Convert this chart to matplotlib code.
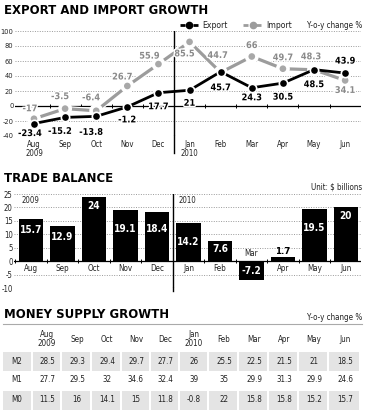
import matplotlib
matplotlib.use("Agg")
import matplotlib.pyplot as plt
import matplotlib.patheffects as pe
from matplotlib.patches import Rectangle

plt.rcParams['font.family'] = ['DejaVu Sans']
plt.rcParams['font.stretch'] = 'condensed'

# ---------------- data ----------------
months = ["Aug", "Sep", "Oct", "Nov", "Dec", "Jan", "Feb", "Mar", "Apr", "May", "Jun"]
month_labels_top = ["Aug\n2009", "Sep", "Oct", "Nov", "Dec", "Jan\n2010", "Feb", "Mar", "Apr", "May", "Jun"]
export_growth = [-23.4, -15.2, -13.8, -1.2, 17.7, 21, 45.7, 24.3, 30.5, 48.5, 43.9]
import_growth = [-17, -3.5, -6.4, 26.7, 55.9, 85.5, 44.7, 66, 49.7, 48.3, 34.1]
trade_balance = [15.7, 12.9, 24, 19.1, 18.4, 14.2, 7.6, -7.2, 1.7, 19.5, 20]
table_header = ["Aug\n2009", "Sep", "Oct", "Nov", "Dec", "Jan\n2010", "Feb", "Mar", "Apr", "May", "Jun"]
m2 = ["28.5", "29.3", "29.4", "29.7", "27.7", "26", "25.5", "22.5", "21.5", "21", "18.5"]
m1 = ["27.7", "29.5", "32", "34.6", "32.4", "39", "35", "29.9", "31.3", "29.9", "24.6"]
m0 = ["11.5", "16", "14.1", "15", "11.8", "-0.8", "22", "15.8", "15.8", "15.2", "15.7"]

# label offsets (pixels) - styling only
exp_off = [(-4, -10), (-5, -14), (-5, -16), (0, -13), (0, -14), (0, -13), (0, -16), (0, -10), (0, -14), (0, -15), (0, 12)]
imp_off = [(-4, 10), (-5, 12), (-5, 13), (-5, 9), (-9, 8), (-5, -12), (-3, 17), (0, 11), (0, 11), (-3, 13), (0, -10)]
bar_lab_off = [6, 6, 4, 14, 12, 14, 3, -11, 0, 14, 4]

W, H = 370, 420
fig = plt.figure(figsize=(W / 100, H / 100), dpi=100)


def ax_px(l, t, r, b, **kw):
    return fig.add_axes([l / W, 1 - b / H, (r - l) / W, (b - t) / H], **kw)


GRID = dict(color="#9a9a9a", lw=0.7, ls=(0, (1, 1.5)))
TXT = "#222222"
TITLE = dict(fontsize=9.4, fontweight="heavy", color="black", va="center", ha="left")

# overlay in pixel coords
ov = ax_px(0, 0, W, H, zorder=10)
ov.set_xlim(0, W)
ov.set_ylim(H, 0)
ov.axis("off")
ov.patch.set_alpha(0)

# ---------------- top chart ----------------
ax1 = ax_px(15, 31, 361, 136)
x = list(range(len(months)))
ax1.set_xlim(-0.61, 10.51)
ax1.set_ylim(-40, 100)
for s in ax1.spines.values():
    s.set_visible(False)
ax1.set_yticks(range(-40, 101, 20))
ax1.set_yticklabels([str(v) for v in range(-40, 101, 20)], fontsize=5.3, color=TXT)
ax1.tick_params(axis="y", length=0, pad=1)
ax1.set_xticks(x)
ax1.set_xticklabels(month_labels_top, fontsize=5.6, color=TXT, linespacing=0.95)
ax1.tick_params(axis="x", length=0, pad=3)
for v in range(-40, 101, 20):
    if v != 0:
        ax1.axhline(v, **GRID, zorder=0)
ax1.axhline(0, color="black", lw=0.9, zorder=1)
ax1.plot([i + 0.5 for i in range(10)], [0] * 10, ls="none", marker="|", ms=3, mew=0.7, color="black", zorder=1)
ax1.axvline(4.5, ymin=0, ymax=1, color="black", lw=1, zorder=1)
ax1.plot([4.5, 4.5], [-40, -63], color="black", lw=1, clip_on=False)

ax1.plot(x, import_growth, color="#9c9c9c", lw=2.3, marker="o", ms=6, mfc="#a8a8a8", mec="white", mew=1.2,
         zorder=3, path_effects=[pe.Stroke(linewidth=4, foreground="white"), pe.Normal()])
ax1.plot(x, export_growth, color="black", lw=2, marker="o", ms=6, mfc="black", mec="white", mew=1.2, zorder=4)

for i in x:
    ax1.annotate(f"{import_growth[i]:g}", (i, import_growth[i]), xytext=imp_off[i], textcoords="offset pixels",
                 ha="center", va="center", fontsize=6.6, color="#8a8a8a", fontweight="bold", zorder=5,
                 path_effects=[pe.withStroke(linewidth=2, foreground="white")])
    ax1.annotate(f"{export_growth[i]:g}", (i, export_growth[i]), xytext=exp_off[i], textcoords="offset pixels",
                 ha="center", va="center", fontsize=6.6, color="black", fontweight="bold", zorder=6,
                 path_effects=[pe.withStroke(linewidth=2, foreground="white")])

ov.text(4, 11, "EXPORT AND IMPORT GROWTH", **TITLE)
# legend
ov.plot([180, 185], [25, 25], color="black", lw=2, solid_capstyle="butt")
ov.plot([193, 198], [25, 25], color="black", lw=2, solid_capstyle="butt")
ov.plot([189], [25], marker="o", ms=4.5, color="black")
ov.text(202, 25, "Export", fontsize=6.2, va="center", color=TXT)
ov.plot([243, 248], [25, 25], color="#9c9c9c", lw=2, solid_capstyle="butt")
ov.plot([256, 261], [25, 25], color="#9c9c9c", lw=2, solid_capstyle="butt")
ov.plot([252.5], [25], marker="o", ms=4.5, color="#9c9c9c")
ov.text(266, 25, "Import", fontsize=6.2, va="center", color=TXT)
ov.text(362, 25, "Y-o-y change %", fontsize=5.8, va="center", ha="right", color=TXT)

# ---------------- trade balance ----------------
ax2 = ax_px(14, 194, 361, 288)
ax2.set_xlim(-0.54, 10.48)
ax2.set_ylim(-10, 25)
for s in ax2.spines.values():
    s.set_visible(False)
ax2.set_yticks(range(-10, 26, 5))
ax2.set_yticklabels([str(v) for v in range(-10, 26, 5)], fontsize=5.6, color=TXT)
ax2.tick_params(axis="y", length=0, pad=1)
ax2.set_xticks([])
for v in range(-10, 26, 5):
    if v != 0:
        ax2.axhline(v, **GRID, zorder=0)
ax2.bar(x, trade_balance, width=0.77, color="black", zorder=2)
ax2.axhline(0, color="black", lw=0.9, zorder=3)
ax2.plot([i + 0.5 for i in range(-1, 11)], [0] * 12, ls="none", marker="|", ms=3, mew=0.7, color="black", zorder=3)
ax2.axvline(4.5, color="black", lw=1, zorder=3)
ax2.plot([4.5, 4.5], [-10, -11], color="black", lw=1, clip_on=False)

for i, v in enumerate(trade_balance):
    if v >= 5:
        ax2.annotate(f"{v:g}", (i, v), xytext=(0, -bar_lab_off[i]), textcoords="offset pixels",
                     ha="center", va="top", fontsize=7.2, fontweight="heavy", color="white", zorder=4)
    elif v >= 0:
        ax2.annotate(f"{v:g}", (i, v), xytext=(0, 1), textcoords="offset pixels",
                     ha="center", va="bottom", fontsize=6.8, fontweight="bold", color="black", zorder=4)
    else:
        ax2.annotate(f"{v:g}", (i, v), xytext=(0, 9), textcoords="offset pixels",
                     ha="center", va="center", fontsize=7.2, fontweight="heavy", color="white", zorder=4)
    if v >= 0:
        ax2.annotate(months[i], (i, 0), xytext=(0, -3), textcoords="offset pixels",
                     ha="center", va="top", fontsize=5.8, color=TXT, zorder=4)
    else:
        ax2.annotate(months[i], (i, 0), xytext=(0, 3), textcoords="offset pixels",
                     ha="center", va="bottom", fontsize=5.8, color=TXT, zorder=4)
ax2.text(-0.3, 24.2, "2009", fontsize=5.6, color=TXT, va="top")
ax2.text(4.7, 24.2, "2010", fontsize=5.6, color=TXT, va="top")

ov.text(4, 178, "TRADE BALANCE", **TITLE)
ov.text(362, 187, "Unit: $ billions", fontsize=5.8, va="center", ha="right", color=TXT)

# ---------------- money supply table ----------------
ov.text(4, 314, "MONEY SUPPLY GROWTH", **TITLE)
ov.text(362, 318, "Y-o-y change %", fontsize=5.8, va="center", ha="right", color=TXT)
ov.plot([3, 362], [324, 324], color="#aaaaaa", lw=0.8)

col_x = [17, 47, 77, 107, 136, 165, 194, 224, 254, 284, 314, 345]
edges = [3, 33, 62, 92, 122, 151, 180, 209, 239, 269, 299, 329, 361]
rows = [("M2", m2, 361, True), ("M1", m1, 380, False), ("M0", m0, 400, True)]
for name, vals, yc, shaded in rows:
    if shaded:
        for k in range(12):
            ov.add_patch(Rectangle((edges[k], yc - 9.5), edges[k + 1] - edges[k] - 2, 19,
                                   facecolor="#e4e4e4", edgecolor="none", zorder=1))
    ov.text(col_x[0], yc, name, fontsize=5.8, ha="center", va="center", color=TXT, zorder=2)
    for k, v in enumerate(vals):
        ov.text(col_x[k + 1], yc, v, fontsize=5.8, ha="center", va="center", color=TXT, zorder=2)
for k, h in enumerate(table_header):
    ov.text(col_x[k + 1], 339, h, fontsize=5.8, ha="center", va="center", color=TXT, linespacing=0.95)

fig.savefig("out.png", dpi=100)
